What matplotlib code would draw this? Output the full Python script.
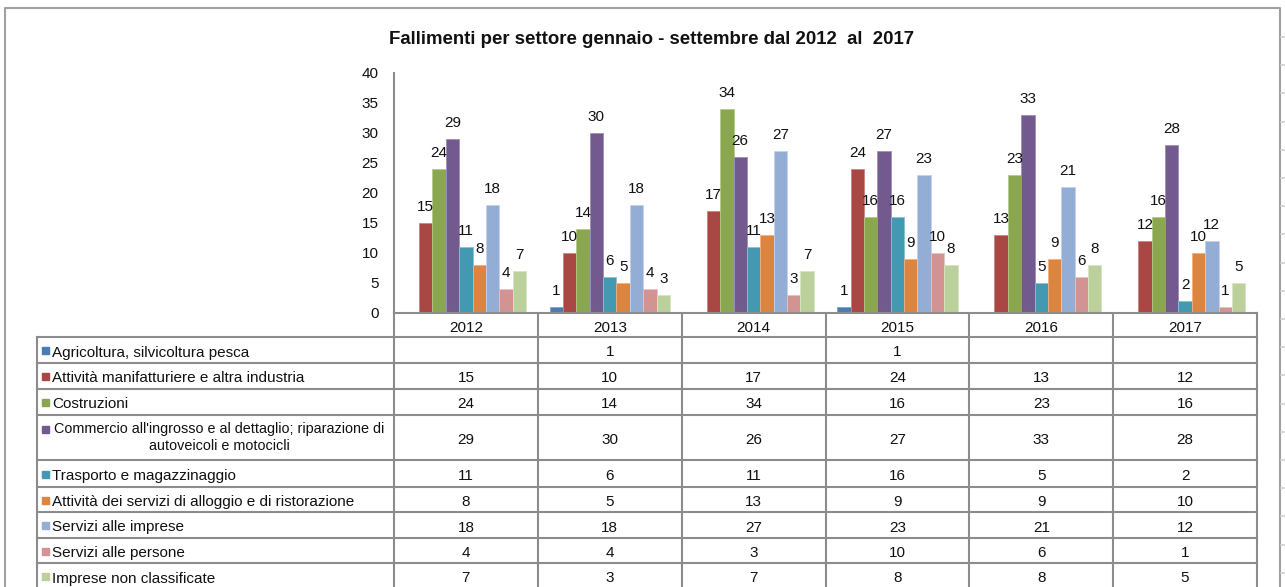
import numpy as np
import matplotlib
matplotlib.use("Agg")
import matplotlib.pyplot as plt
import matplotlib.transforms as mtransforms
from matplotlib.patches import Rectangle

plt.rcParams['font.family'] = ['Liberation Sans', 'DejaVu Sans']

# dati
anni = ['2012', '2013', '2014', '2015', '2016', '2017']
settori = [
    "Agricoltura, silvicoltura pesca",
    "Attività manifatturiere e altra industria",
    "Costruzioni",
    "Commercio all'ingrosso e al dettaglio; riparazione di\nautoveicoli e motocicli",
    "Trasporto e magazzinaggio",
    "Attività dei servizi di alloggio e di ristorazione",
    "Servizi alle imprese",
    "Servizi alle persone",
    "Imprese non classificate",
]
agricoltura = [None, 1, None, 1, None, None]
manifatturiere = [15, 10, 17, 24, 13, 12]
costruzioni = [24, 14, 34, 16, 23, 16]
commercio = [29, 30, 26, 27, 33, 28]
trasporto = [11, 6, 11, 16, 5, 2]
alloggio = [8, 5, 13, 9, 9, 10]
serv_imprese = [18, 18, 27, 23, 21, 12]
serv_persone = [4, 4, 3, 10, 6, 1]
non_classificate = [7, 3, 7, 8, 8, 5]
serie = [agricoltura, manifatturiere, costruzioni, commercio, trasporto,
         alloggio, serv_imprese, serv_persone, non_classificate]

colori = ['#4A7CB4', '#A94744', '#8AA64F', '#725A8F', '#4399B1',
          '#DD853F', '#94ADD4', '#D39392', '#BBD09A']
bordi = ['#7FA3CF', '#C98583', '#B2C98A', '#A08DBA', '#86C3D4',
         '#EBB186', '#C3D2EA', '#E8C0BF', '#D8E5C3']

W, H = 1285, 587
fig = plt.figure(figsize=(W / 100, H / 100), dpi=100)

# asse per tabella e cornice (coordinate in pixel)
ov = fig.add_axes([0, 0, 1, 1])
ov.set_xlim(0, W)
ov.set_ylim(H, 0)
ov.axis('off')
ov.patch.set_alpha(0)

# area del grafico
x0, x1, y_top, y_base = 394, 1257, 73, 313
ax = fig.add_axes([x0 / W, 1 - y_base / H, (x1 - x0) / W, (y_base - y_top) / H])
ax.patch.set_alpha(0)
ax.set_xlim(0, len(anni))
ax.set_ylim(0, 40)
ax.set_yticks(np.arange(0, 41, 5))
ax.tick_params(axis='y', length=0, pad=11, labelsize=11, labelcolor='#111111')
ax.set_xticks([])
for s in ['top', 'right']:
    ax.spines[s].set_visible(False)
for s in ['left', 'bottom']:
    ax.spines[s].set_color('#8C8C8C')
    ax.spines[s].set_linewidth(1.5)

bw = 0.093
n = len(serie)
x = np.arange(len(anni)) + 0.5
for j, vals in enumerate(serie):
    v = np.array([np.nan if a is None else a for a in vals], dtype=float)
    xs = x + (j - (n - 1) / 2) * bw
    ax.bar(xs, v, width=bw, color=colori[j], edgecolor=bordi[j], linewidth=0.6)
    for xi, vi in zip(xs, v):
        if not np.isnan(vi):
            ax.annotate(f"{int(vi)}", (xi, vi), xytext=(0, 11.5), textcoords='offset points',
                        ha='center', va='center', fontsize=11, color='#111111')

# titolo
ov.text(652, 38, "Fallimenti per settore gennaio - settembre dal 2012  al  2017",
        ha='center', va='center_baseline', fontsize=13.4, fontweight='bold', color='#111111')

# cornice esterna
gc = '#8C8C8C'
ov.plot([5, 5, 1280, 1280], [H + 2, 8, 8, H + 2], color='#A0A0A0', lw=1.5, clip_on=False)
for yy in np.arange(37, H, 28.2):
    ov.plot([1281, 1285], [yy, yy], color='#D0D0D0', lw=1.2)

# tabella dati
trans = mtransforms.blended_transform_factory(ax.transData, ov.transData)
righe = [337, 363, 389, 415, 460, 487, 512, 538, 563, 589]
tab_left = 37
for i in range(len(anni) + 1):
    ov.plot([i, i], [y_base, H + 2], color=gc, lw=1.5, transform=trans, clip_on=False)
ov.plot([tab_left, tab_left], [righe[0], H + 2], color=gc, lw=1.5, clip_on=False)
for yy in righe[:-1]:
    ov.plot([tab_left, x0], [yy, yy], color=gc, lw=1.5)
    ov.plot([0, len(anni)], [yy, yy], color=gc, lw=1.5, transform=trans)

for i, a in enumerate(anni):
    ov.text(i + 0.5, (y_base + righe[0]) / 2 + 1, a, ha='center', va='center_baseline',
            fontsize=11, color='#111111', transform=trans)

for j, (nome, vals) in enumerate(zip(settori, serie)):
    yc = (righe[j] + righe[j + 1]) / 2 + 1
    multi = '\n' in nome
    ym = yc - 9 if multi else yc
    ov.add_patch(Rectangle((42, ym - 4), 7, 7, color=colori[j]))
    if multi:
        ov.text(219, yc - 1, nome, ha='center', va='center', multialignment='center',
                fontsize=10.4, color='#111111', linespacing=1.25)
    else:
        ov.text(52, yc, nome, ha='left', va='center_baseline', fontsize=11, color='#111111')
    for i, v in enumerate(vals):
        if v is not None:
            ov.text(i + 0.5, yc, str(v), ha='center', va='center_baseline', fontsize=11,
                    color='#111111', transform=trans)

fig.savefig('out.png', dpi=100, facecolor='white')
